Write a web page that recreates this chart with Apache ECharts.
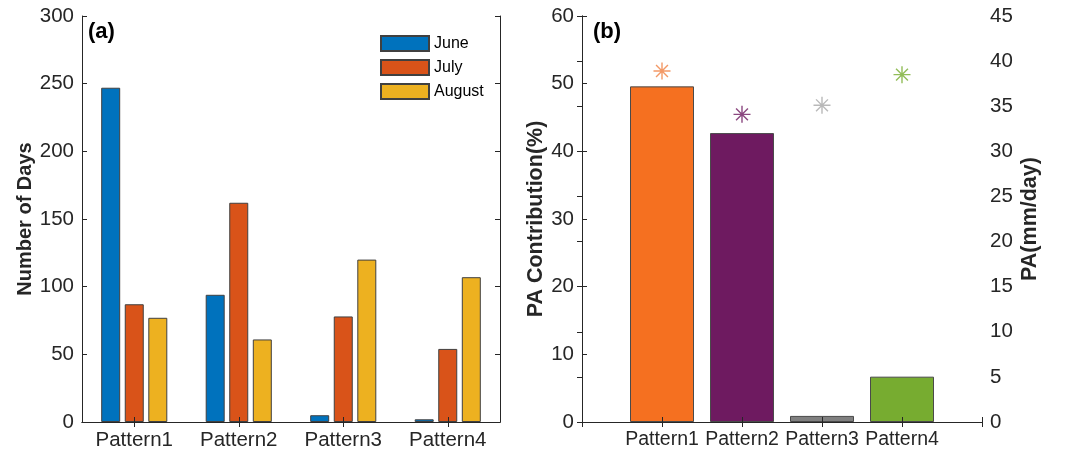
<!DOCTYPE html>
<html lang="en" style="height: 100%">
<head>
  <meta charset="utf-8" />
  <title>Pattern days and PA</title>
</head>
<body style="height: 100%; margin: 0; background: #fff">
  <div id="container" style="width: 1084px; height: 454px"></div>

  <script src="https://cdn.jsdelivr.net/npm/echarts@6/dist/echarts.min.js"></script>

  <script>
    // data
    const categories = ['Pattern1', 'Pattern2', 'Pattern3', 'Pattern4'];
    const months = ['June', 'July', 'August'];
    const juneDays = [247, 94, 5, 2];
    const julyDays = [87, 162, 78, 54];
    const augustDays = [77, 61, 120, 107];
    const paContribution = [49.6, 42.7, 0.9, 6.7];   // left axis, %
    const paRate = [38.9, 34.1, 35.1, 38.5];         // right axis, mm/day

    const monthColors = ['#0072BD', '#D95319', '#EDB120'];
    const barColors = ['#F57020', '#6E1A60', '#808080', '#77AC30'];
    const starColors = ['#F08040', '#6E1A60', '#A8A8A8', '#77AC30'];

    const font = 'Arial, "Liberation Sans", Helvetica, sans-serif';
    const ink = '#262626';

    var dom = document.getElementById('container');
    var myChart = echarts.init(dom, null, { renderer: 'canvas' });

    // common axis look (MATLAB box style, ticks inside)
    function boxAxis(extra) {
      return Object.assign({
        axisLine: { show: true, lineStyle: { color: ink, width: 1 } },
        axisTick: { show: true, inside: true, length: 5, lineStyle: { color: ink } },
        axisLabel: { show: false },
        splitLine: { show: false },
        z: 5
      }, extra);
    }

    const daySeries = [juneDays, julyDays, augustDays].map(function (vals, i) {
      return {
        name: months[i],
        type: 'bar',
        xAxisIndex: 0,
        yAxisIndex: 0,
        barWidth: 19,
        barGap: '24%',
        data: vals,
        itemStyle: { color: monthColors[i], borderColor: '#404040', borderWidth: 1 }
      };
    });

    const contribData = paContribution.map(function (v, i) {
      return { value: [i + 1, v], itemStyle: { color: barColors[i] } };
    });
    const rateData = paRate.map(function (v, i) {
      return { value: [i + 1, v], itemStyle: { color: 'rgba(0,0,0,0)', borderColor: starColors[i] } };
    });

    var option = {
      animation: false,
      textStyle: { fontFamily: font, color: ink },
      title: [
        { text: '(a)', left: 83, top: 16, textStyle: { fontSize: 22, fontWeight: 'bold', color: '#000', fontFamily: font } },
        { text: '(b)', left: 588, top: 16, textStyle: { fontSize: 22, fontWeight: 'bold', color: '#000', fontFamily: font } }
      ],
      legend: {
        data: months,
        orient: 'vertical',
        left: 375,
        top: 30,
        icon: 'rect',
        itemWidth: 48,
        itemHeight: 15,
        itemGap: 7,
        itemTextGap: 5,
        textStyle: { fontSize: 16, color: '#000', fontFamily: font }
      },
      grid: [
        { left: 82, top: 16, width: 418, height: 406 },
        { left: 582, top: 16, width: 400, height: 406 }
      ],
      xAxis: [
        boxAxis({
          type: 'category', gridIndex: 0, position: 'bottom', data: categories,
          axisTick: { show: true, inside: true, length: 5, alignWithLabel: true, lineStyle: { color: ink } },
          axisLabel: { show: true, fontSize: 20.5, color: ink, margin: 8, fontFamily: font }
        }),
        boxAxis({
          type: 'category', gridIndex: 0, position: 'top', data: categories,
          axisTick: { show: true, inside: true, length: 5, alignWithLabel: true, lineStyle: { color: ink } }
        }),
        boxAxis({
          type: 'value', gridIndex: 1, position: 'bottom', min: 0, max: 5, interval: 1,
          axisLabel: {
            show: true, fontSize: 19.5, color: ink, margin: 8, fontFamily: font,
            formatter: function (v) { return categories[v - 1] || ''; }
          }
        }),
        boxAxis({ type: 'value', gridIndex: 1, position: 'top', min: 0, max: 5, interval: 1 })
      ],
      yAxis: [
        boxAxis({
          type: 'value', gridIndex: 0, position: 'left', min: 0, max: 300, interval: 50,
          axisLabel: { show: true, fontSize: 20.5, color: ink, margin: 8, fontFamily: font },
          name: 'Number of Days', nameLocation: 'middle', nameGap: 47,
          nameTextStyle: { fontSize: 20, fontWeight: 'bold', color: ink, fontFamily: font }
        }),
        boxAxis({ type: 'value', gridIndex: 0, position: 'right', min: 0, max: 300, interval: 50 }),
        boxAxis({
          type: 'value', gridIndex: 1, position: 'left', min: 0, max: 60, interval: 10,
          axisLabel: { show: true, fontSize: 20.5, color: ink, margin: 8, fontFamily: font },
          name: 'PA Contribution(%)', nameLocation: 'middle', nameGap: 30,
          nameTextStyle: { fontSize: 21.5, fontWeight: 'bold', color: ink, fontFamily: font }
        }),
        boxAxis({
          type: 'value', gridIndex: 1, position: 'right', min: 0, max: 45, interval: 5,
          axisLabel: { show: true, fontSize: 20.5, color: ink, margin: 8, fontFamily: font },
          name: 'PA(mm/day)', nameLocation: 'middle', nameGap: 37,
          nameTextStyle: { fontSize: 21.5, fontWeight: 'bold', color: ink, fontFamily: font }
        })
      ],
      series: daySeries.concat([
        {
          name: 'PA Contribution',
          type: 'bar',
          xAxisIndex: 2,
          yAxisIndex: 2,
          barWidth: 64,
          data: contribData,
          itemStyle: { borderColor: '#4a4a4a', borderWidth: 1 }
        },
        {
          name: 'PA',
          type: 'scatter',
          xAxisIndex: 2,
          yAxisIndex: 3,
          symbol: 'path://M10 0L10 20M0 10L20 10M3 3L17 17M17 3L3 17',
          symbolSize: 17,
          data: rateData,
          itemStyle: { borderWidth: 1.4 },
          z: 6
        }
      ])
    };

    myChart.setOption(option);

    window.onresize = function () {
      myChart.resize();
    };
  </script>
</body>
</html>
